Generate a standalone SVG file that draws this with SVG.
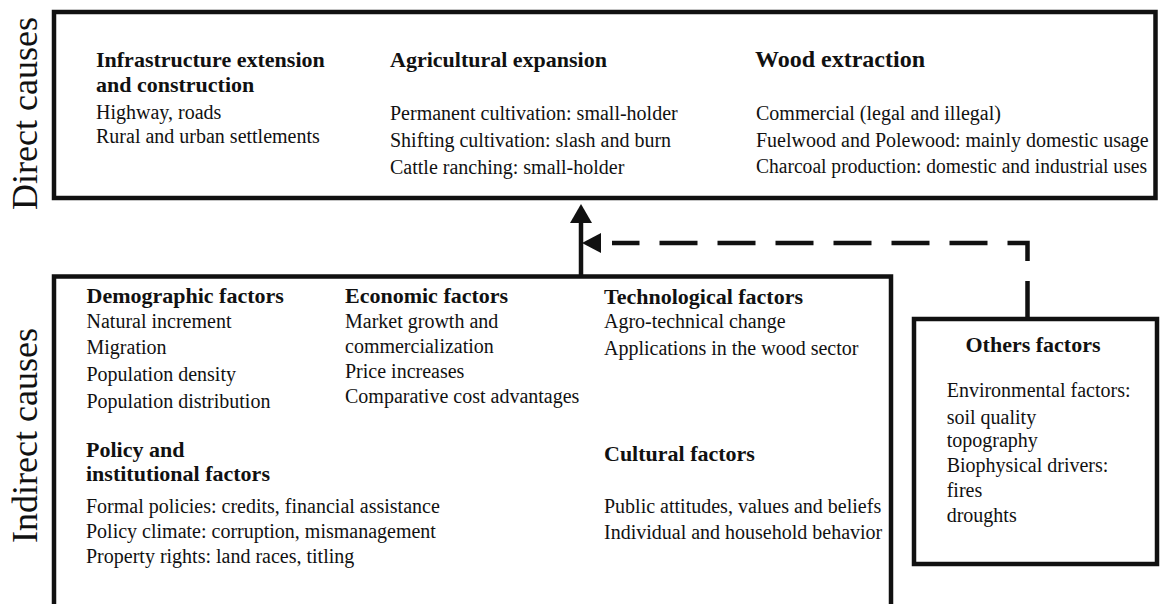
<svg xmlns="http://www.w3.org/2000/svg" width="1160" height="604" viewBox="0 0 1160 604">
<style>
text{font-family:"Liberation Serif","Times New Roman",serif;fill:#111}
.h{font-size:22px;font-weight:bold}
.t{font-size:20px}
.side{font-size:36px}
.box{fill:none;stroke:#111;stroke-width:4.5}
.con{fill:none;stroke:#111;stroke-width:4.5}
</style>
<rect width="1160" height="604" fill="#fff"/>
<text class="side" transform="translate(37,113.5) rotate(-90)" text-anchor="middle">Direct causes</text>
<text class="side" transform="translate(37,435.5) rotate(-90)" text-anchor="middle">Indirect causes</text>

<g id="direct">
<rect class="box" x="54" y="12" width="1101.5" height="186"/>
<text class="h" x="96" y="66.7">Infrastructure extension</text>
<text class="h" x="96" y="91.7">and construction</text>
<text class="t" x="96" y="119.3">Highway, roads</text>
<text class="t" x="96" y="142.7">Rural and urban settlements</text>
<text class="h" x="390" y="66.7">Agricultural expansion</text>
<text class="t" x="390" y="120">Permanent cultivation: small-holder</text>
<text class="t" x="390" y="146.7">Shifting cultivation: slash and burn</text>
<text class="t" x="390" y="173.5">Cattle ranching: small-holder</text>
<text class="h" x="755" y="67" style="font-size:24px">Wood extraction</text>
<text class="t" x="756" y="120">Commercial (legal and illegal)</text>
<text class="t" x="756" y="146.7">Fuelwood and Polewood: mainly domestic usage</text>
<text class="t" x="756" y="173.3" textLength="391" lengthAdjust="spacingAndGlyphs">Charcoal production: domestic and industrial uses</text>
</g>

<g id="indirect">
<rect class="box" x="54" y="276.5" width="837" height="330"/>
<text class="h" x="86.5" y="303">Demographic factors</text>
<text class="t" x="86.5" y="327.7">Natural increment</text>
<text class="t" x="86.5" y="354">Migration</text>
<text class="t" x="86.5" y="380.5">Population density</text>
<text class="t" x="86.5" y="408">Population distribution</text>
<text class="h" x="345" y="303">Economic factors</text>
<text class="t" x="345" y="327.7">Market growth and</text>
<text class="t" x="345" y="353.3">commercialization</text>
<text class="t" x="345" y="377.5">Price increases</text>
<text class="t" x="345" y="402.7">Comparative cost advantages</text>
<text class="h" x="604" y="304">Technological factors</text>
<text class="t" x="604" y="327.7">Agro-technical change</text>
<text class="t" x="604" y="355">Applications in the wood sector</text>
<text class="h" x="86" y="456.5">Policy and</text>
<text class="h" x="86" y="481">institutional factors</text>
<text class="t" x="86" y="513.3">Formal policies: credits, financial assistance</text>
<text class="t" x="86" y="538.3">Policy climate: corruption, mismanagement</text>
<text class="t" x="86" y="563.3">Property rights: land races, titling</text>
<text class="h" x="604" y="461">Cultural factors</text>
<text class="t" x="604" y="512.7">Public attitudes, values and beliefs</text>
<text class="t" x="604" y="539.3">Individual and household behavior</text>
</g>

<g id="others">
<rect class="box" x="914" y="319" width="243" height="245"/>
<text class="h" x="1033" y="351.7" text-anchor="middle">Others factors</text>
<text class="t" x="946.7" y="396.7">Environmental factors:</text>
<text class="t" x="946.7" y="424.3">soil quality</text>
<text class="t" x="946.7" y="446.7">topography</text>
<text class="t" x="946.7" y="471.7">Biophysical drivers:</text>
<text class="t" x="946.7" y="496.7">fires</text>
<text class="t" x="946.7" y="521.7">droughts</text>
</g>

<g id="connectors">
<line class="con" x1="581" y1="276" x2="581" y2="220"/>
<polygon points="581,204 570,223 592,223" fill="#111"/>
<path class="con" d="M1027.5,319 V243 H612" stroke-dasharray="38 20"/>
<polygon points="582,243 601,233 601,253" fill="#111"/>
</g>
</svg>
